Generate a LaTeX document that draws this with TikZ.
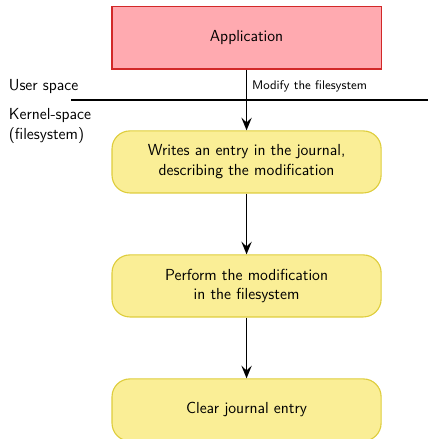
\documentclass[tikz,border=0pt]{standalone}
\usepackage{tikz}
\usetikzlibrary{shapes}
\usetikzlibrary{arrows,arrows.meta}
\usetikzlibrary{positioning}

\definecolor{appred}{RGB}{255,170,176}
\definecolor{appborder}{RGB}{210,40,40}
\definecolor{stepyellow}{RGB}{250,238,150}
\definecolor{stepborder}{RGB}{222,205,60}

\newcommand{\boxfont}{\sffamily\fontsize{11.5}{14.2}\selectfont}

\tikzset{
  appbox/.style={draw=appborder, fill=appred, thick, minimum width=6.81cm, minimum height=1.57cm, font=\boxfont},
  stepbox/.style={draw=stepborder, fill=stepyellow, thick, rounded corners=0.45cm, minimum width=6.81cm, minimum height=1.57cm, align=center, font=\boxfont},
  flow/.style={-{Stealth[length=3.2mm,width=2.6mm,inset=1.2mm]}, very thick}
}

\begin{document}
\begin{tikzpicture}[node distance=1.54cm]
    \useasboundingbox (0,0) rectangle (10.83,-11.11);

    \node[appbox] (app) at (6.24,-0.96) {Application};
    \node[stepbox, below=of app] (journal) {Writes an entry in the journal,\\describing the modification};
    \node[stepbox, below=of journal] (modify) {Perform the modification\\in the filesystem};
    \node[stepbox, below=of modify] (clear) {Clear journal entry};

    % user / kernel boundary
    \coordinate (lleft) at (1.80,-2.53);
    \coordinate (lright) at (10.83,-2.53);
    \draw[thick] (lleft) -- (lright);
    \node[anchor=west, font=\boxfont] (user) at (0.1,-2.18) {User space};
    \node[anchor=west, align=left, font=\boxfont] (kernel) at (0.1,-3.19) {Kernel-space\\(filesystem)};

    \draw[flow] (app) -- node[pos=0.28, right, font=\sffamily\small] (modlabel) {Modify the filesystem} (journal);
    \draw[flow] (journal) -- (modify);
    \draw[flow] (modify) -- (clear);
\end{tikzpicture}
\end{document}
